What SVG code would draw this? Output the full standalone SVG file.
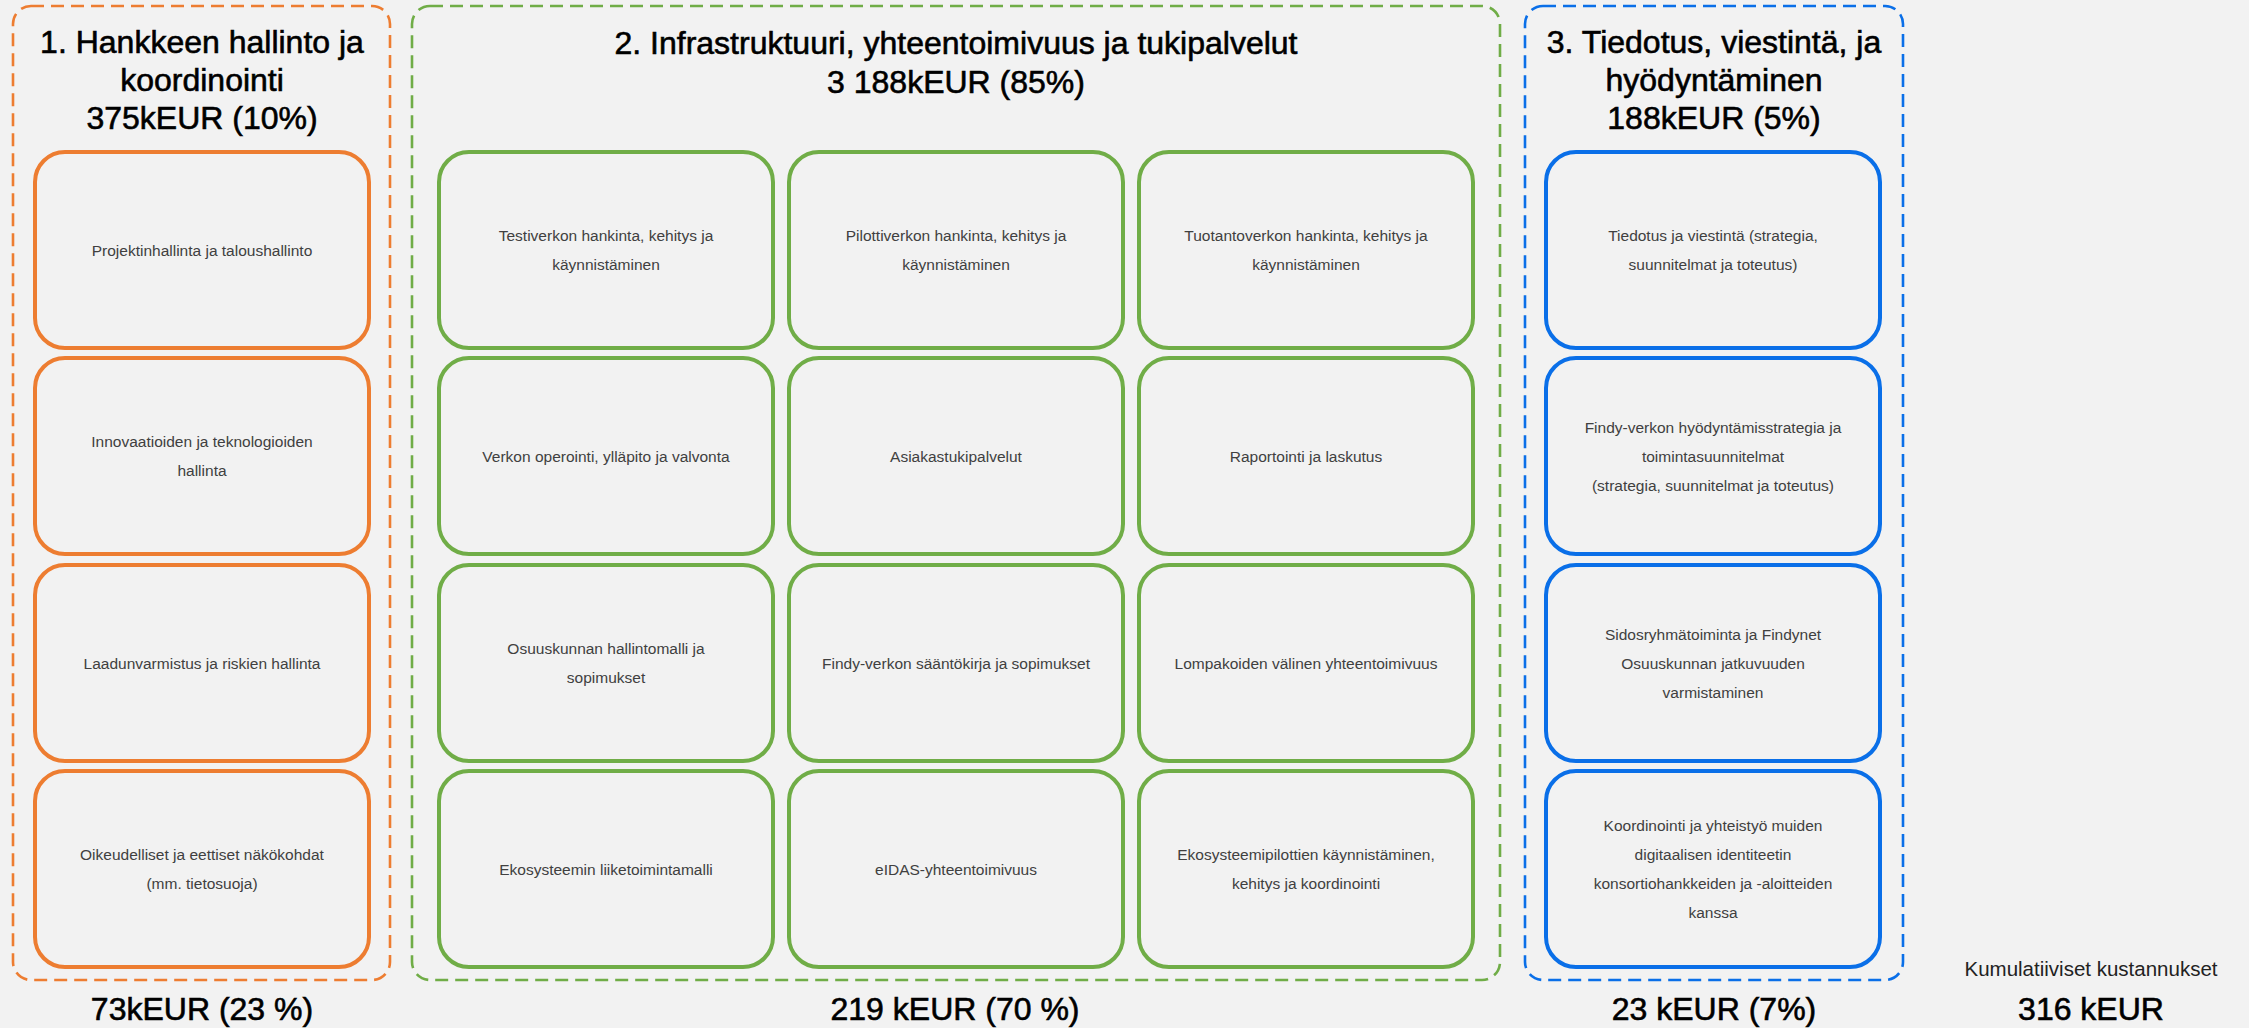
<svg xmlns="http://www.w3.org/2000/svg" width="2249" height="1028" viewBox="0 0 2249 1028">
<style>
.bg{fill:#F2F2F2}
.cont{fill:none;stroke-width:2.6;stroke-dasharray:13 7}
.node{fill:#F2F2F2;stroke-width:4}
.o{stroke:#ED7D31}.g{stroke:#70AD47}.b{stroke:#0A6FE8}
.t{font-family:"Liberation Sans",Arial,sans-serif;font-size:15.5px;fill:#404040;text-anchor:middle}
.h{font-family:"Liberation Sans",Arial,sans-serif;font-size:32px;fill:#000;stroke:#000;stroke-width:0.6;text-anchor:middle}
.s{font-family:"Liberation Sans",Arial,sans-serif;font-size:20.5px;fill:#222;text-anchor:middle}
</style>
<rect class="bg" x="0" y="0" width="2249" height="1028"/>
<g id="group1">
<rect class="cont o" x="13" y="6" width="377" height="974" rx="18"/>
<text class="h" x="202" y="53">1. Hankkeen hallinto ja</text>
<text class="h" x="202" y="91">koordinointi</text>
<text class="h" x="202" y="129">375kEUR (10%)</text>
</g>
<g id="group2">
<rect class="cont g" x="412" y="6" width="1088" height="974" rx="18"/>
<text class="h" x="956" y="54">2. Infrastruktuuri, yhteentoimivuus ja tukipalvelut</text>
<text class="h" x="956" y="93">3 188kEUR (85%)</text>
</g>
<g id="group3">
<rect class="cont b" x="1525" y="6" width="378" height="974" rx="18"/>
<text class="h" x="1714" y="53">3. Tiedotus, viestintä, ja</text>
<text class="h" x="1714" y="91">hyödyntäminen</text>
<text class="h" x="1714" y="129">188kEUR (5%)</text>
</g>
<g id="connectors"/>
<g id="n1-1"><rect class="node o" x="35" y="152" width="334" height="196" rx="30"/><text class="t" x="202" y="255.5">Projektinhallinta ja taloushallinto</text></g>
<g id="n1-2"><rect class="node o" x="35" y="358" width="334" height="196" rx="30"/><text class="t" x="202" y="447">Innovaatioiden ja teknologioiden</text><text class="t" x="202" y="476">hallinta</text></g>
<g id="n1-3"><rect class="node o" x="35" y="565" width="334" height="196" rx="30"/><text class="t" x="202" y="668.5">Laadunvarmistus ja riskien hallinta</text></g>
<g id="n1-4"><rect class="node o" x="35" y="771" width="334" height="196" rx="30"/><text class="t" x="202" y="860">Oikeudelliset ja eettiset näkökohdat</text><text class="t" x="202" y="889">(mm. tietosuoja)</text></g>

<g id="n2-1"><rect class="node g" x="439" y="152" width="334" height="196" rx="30"/><text class="t" x="606" y="241">Testiverkon hankinta, kehitys ja</text><text class="t" x="606" y="270">käynnistäminen</text></g>
<g id="n2-2"><rect class="node g" x="789" y="152" width="334" height="196" rx="30"/><text class="t" x="956" y="241">Pilottiverkon hankinta, kehitys ja</text><text class="t" x="956" y="270">käynnistäminen</text></g>
<g id="n2-3"><rect class="node g" x="1139" y="152" width="334" height="196" rx="30"/><text class="t" x="1306" y="241">Tuotantoverkon hankinta, kehitys ja</text><text class="t" x="1306" y="270">käynnistäminen</text></g>
<g id="n2-4"><rect class="node g" x="439" y="358" width="334" height="196" rx="30"/><text class="t" x="606" y="461.5">Verkon operointi, ylläpito ja valvonta</text></g>
<g id="n2-5"><rect class="node g" x="789" y="358" width="334" height="196" rx="30"/><text class="t" x="956" y="461.5">Asiakastukipalvelut</text></g>
<g id="n2-6"><rect class="node g" x="1139" y="358" width="334" height="196" rx="30"/><text class="t" x="1306" y="461.5">Raportointi ja laskutus</text></g>
<g id="n2-7"><rect class="node g" x="439" y="565" width="334" height="196" rx="30"/><text class="t" x="606" y="654">Osuuskunnan hallintomalli ja</text><text class="t" x="606" y="683">sopimukset</text></g>
<g id="n2-8"><rect class="node g" x="789" y="565" width="334" height="196" rx="30"/><text class="t" x="956" y="668.5">Findy-verkon sääntökirja ja sopimukset</text></g>
<g id="n2-9"><rect class="node g" x="1139" y="565" width="334" height="196" rx="30"/><text class="t" x="1306" y="668.5">Lompakoiden välinen yhteentoimivuus</text></g>
<g id="n2-10"><rect class="node g" x="439" y="771" width="334" height="196" rx="30"/><text class="t" x="606" y="874.5">Ekosysteemin liiketoimintamalli</text></g>
<g id="n2-11"><rect class="node g" x="789" y="771" width="334" height="196" rx="30"/><text class="t" x="956" y="874.5">eIDAS-yhteentoimivuus</text></g>
<g id="n2-12"><rect class="node g" x="1139" y="771" width="334" height="196" rx="30"/><text class="t" x="1306" y="860">Ekosysteemipilottien käynnistäminen,</text><text class="t" x="1306" y="889">kehitys ja koordinointi</text></g>

<g id="n3-1"><rect class="node b" x="1546" y="152" width="334" height="196" rx="30"/><text class="t" x="1713" y="241">Tiedotus ja viestintä (strategia,</text><text class="t" x="1713" y="270">suunnitelmat ja toteutus)</text></g>
<g id="n3-2"><rect class="node b" x="1546" y="358" width="334" height="196" rx="30"/><text class="t" x="1713" y="432.5">Findy-verkon hyödyntämisstrategia ja</text><text class="t" x="1713" y="461.5">toimintasuunnitelmat</text><text class="t" x="1713" y="490.5">(strategia, suunnitelmat ja toteutus)</text></g>
<g id="n3-3"><rect class="node b" x="1546" y="565" width="334" height="196" rx="30"/><text class="t" x="1713" y="639.5">Sidosryhmätoiminta ja Findynet</text><text class="t" x="1713" y="668.5">Osuuskunnan jatkuvuuden</text><text class="t" x="1713" y="697.5">varmistaminen</text></g>
<g id="n3-4"><rect class="node b" x="1546" y="771" width="334" height="196" rx="30"/><text class="t" x="1713" y="831">Koordinointi ja yhteistyö muiden</text><text class="t" x="1713" y="860">digitaalisen identiteetin</text><text class="t" x="1713" y="889">konsortiohankkeiden ja -aloitteiden</text><text class="t" x="1713" y="918">kanssa</text></g>

<g id="totals">
<text class="h" x="202" y="1020">73kEUR (23 %)</text>
<text class="h" x="955" y="1020">219 kEUR (70 %)</text>
<text class="h" x="1714" y="1020">23 kEUR (7%)</text>
<text class="s" x="2091" y="976">Kumulatiiviset kustannukset</text>
<text class="h" x="2091" y="1020">316 kEUR</text>
</g>
</svg>
